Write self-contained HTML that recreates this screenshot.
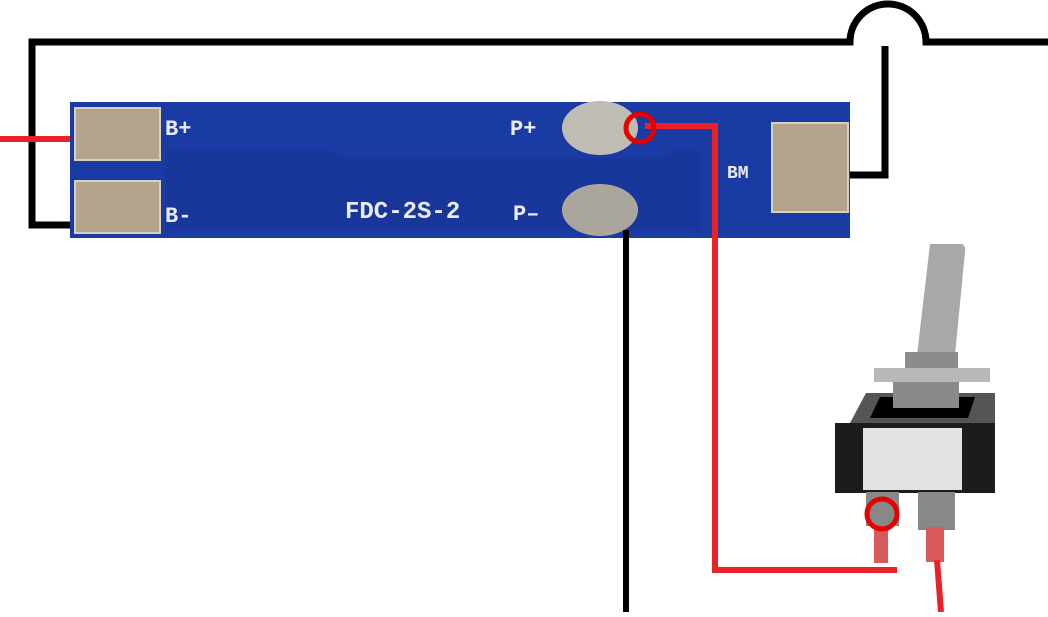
<!DOCTYPE html>
<html><head><style>
body{margin:0;width:1048px;height:612px;background:#fff;overflow:hidden}
</style></head><body>
<svg width="1048" height="612" xmlns="http://www.w3.org/2000/svg">
<path d="M72,225 H32 V42 H850 A38,38 0 0 1 926,42 H1048" fill="none" stroke="#000" stroke-width="7"/>
<path d="M850,175 H885 V46" fill="none" stroke="#000" stroke-width="7"/>
<line x1="0" y1="139" x2="72" y2="139" stroke="#e82226" stroke-width="6"/>
<rect x="70" y="102" width="780" height="136" fill="#1a3aa4"/>
<path d="M165,150 H330 L345,158 H660 L675,150 H700 V230 H165 Z" fill="#17348f" opacity="0.5"/>
<rect x="75" y="108" width="85" height="52" fill="#b4a48c" stroke="#d8d0c0" stroke-width="2"/>
<rect x="75" y="181" width="85" height="52" fill="#b4a48c" stroke="#d8d0c0" stroke-width="2"/>
<rect x="772" y="123" width="76" height="89" fill="#b4a48c" stroke="#d8d0c0" stroke-width="2"/>
<ellipse cx="600" cy="128" rx="38" ry="27" fill="#bfbcb4"/>
<ellipse cx="600" cy="210" rx="38" ry="26" fill="#aaa69e"/>
<g font-family="Liberation Mono, monospace" fill="#e8ecf4" font-size="22" font-weight="bold">
<text x="165" y="135">B+</text>
<text x="165" y="222">B-</text>
<text x="510" y="135">P+</text>
<text x="513" y="220">P–</text>
<text x="345" y="218" font-size="24">FDC-2S-2</text>
<text x="727" y="178" font-size="18">BM</text>
</g>
<line x1="626" y1="230" x2="626" y2="612" stroke="#000" stroke-width="6"/>
<path d="M645,126 H715 V570 H897" fill="none" stroke="#e82226" stroke-width="6"/>
<circle cx="640" cy="128" r="14" fill="none" stroke="#e60000" stroke-width="5"/>
<path d="M930,244 H962 Q966,246 965,252 L955,355 H917 Z" fill="#a8a8a8"/>
<rect x="905" y="352" width="53" height="17" fill="#8c8c8c"/>
<rect x="874" y="368" width="116" height="14" fill="#b8b8b8"/>
<path d="M850,423 L866,393 H995 V423 Z" fill="#555"/>
<path d="M870,418 L880,397 H975 L968,418 Z" fill="#000"/>
<rect x="893" y="382" width="66" height="26" fill="#8a8a8a"/>
<rect x="835" y="423" width="160" height="70" fill="#1c1c1c"/>
<rect x="863" y="428" width="99" height="62" fill="#e2e2e2"/>
<rect x="866" y="492" width="33" height="34" fill="#888"/>
<rect x="918" y="492" width="37" height="38" fill="#888"/>
<rect x="874" y="525" width="14" height="38" fill="#d85a5a"/>
<rect x="926" y="527" width="18" height="35" fill="#d85a5a"/>
<line x1="937" y1="560" x2="941" y2="612" stroke="#e82226" stroke-width="6"/>
<circle cx="882" cy="514" r="15" fill="none" stroke="#e60000" stroke-width="5"/>
</svg>
</body></html>
